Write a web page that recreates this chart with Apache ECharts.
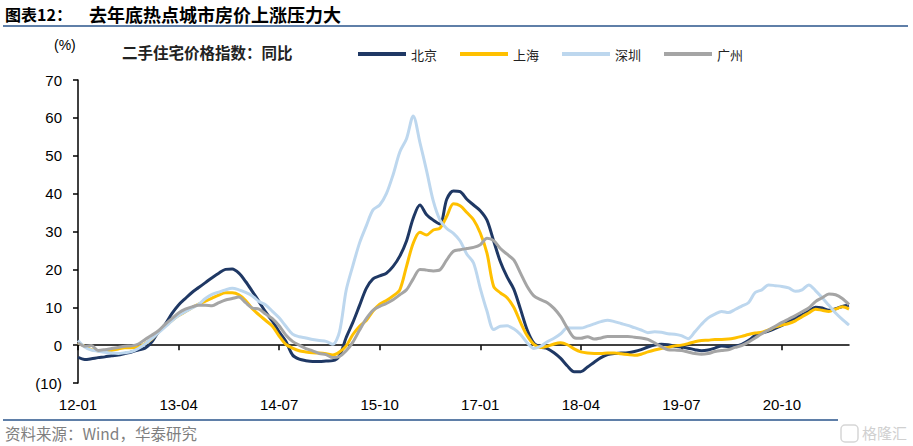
<!DOCTYPE html>
<html>
<head>
<meta charset="utf-8">
<script src="https://cdn.jsdelivr.net/npm/echarts@6/dist/echarts.min.js"></script>
<style>
html,body{margin:0;padding:0;background:#fff;}
#c{width:913px;height:446px;}
</style>
</head>
<body>
<div id="c"></div>
<script>
// Categories: monthly, 2012-01 .. 2021-08
var months = [
 '12-01','12-02','12-03','12-04','12-05','12-06','12-07','12-08','12-09','12-10','12-11','12-12',
 '13-01','13-02','13-03','13-04','13-05','13-06','13-07','13-08','13-09','13-10','13-11','13-12',
 '14-01','14-02','14-03','14-04','14-05','14-06','14-07','14-08','14-09','14-10','14-11','14-12',
 '15-01','15-02','15-03','15-04','15-05','15-06','15-07','15-08','15-09','15-10','15-11','15-12',
 '16-01','16-02','16-03','16-04','16-05','16-06','16-07','16-08','16-09','16-10','16-11','16-12',
 '17-01','17-02','17-03','17-04','17-05','17-06','17-07','17-08','17-09','17-10','17-11','17-12',
 '18-01','18-02','18-03','18-04','18-05','18-06','18-07','18-08','18-09','18-10','18-11','18-12',
 '19-01','19-02','19-03','19-04','19-05','19-06','19-07','19-08','19-09','19-10','19-11','19-12',
 '20-01','20-02','20-03','20-04','20-05','20-06','20-07','20-08','20-09','20-10','20-11','20-12',
 '21-01','21-02','21-03','21-04','21-05','21-06','21-07','21-08'
];

var seriesNames = ['北京','上海','深圳','广州'];

var beijing = [
 -3.2,-3.8,-3.6,-3.3,-3.1,-2.8,-2.6,-2.2,-1.8,-1.3,-0.8,0.8,
 3.5,5.5,8.3,10.6,12.3,13.9,15.2,16.5,17.8,19.0,20.0,20.1,
 19.0,16.8,14.2,11.5,8.7,6.3,3.5,1.0,-2.6,-3.7,-4.1,-4.3,
 -4.3,-4.2,-4.1,-2.8,2.0,6.0,10.5,15.0,17.5,18.3,19.0,20.8,
 23.5,27.5,33.5,37.0,34.4,33.0,32.0,38.5,40.7,40.5,38.5,37.0,
 35.5,33.0,27.5,22.0,18.0,14.8,9.5,4.0,0.5,-0.5,-0.9,-2.0,
 -3.5,-5.5,-7.0,-7.0,-5.8,-4.5,-3.3,-2.5,-2.2,-2.1,-2.0,-1.7,
 -1.2,-0.5,0.0,0.2,0.1,-0.3,-0.5,-0.8,-1.2,-1.5,-1.3,-0.8,
 -0.2,-0.4,-0.3,0.2,1.2,2.5,3.2,3.7,4.4,5.2,6.2,7.2,
 8.0,9.0,10.0,9.8,9.2,9.6,10.2,10.5
];

var shanghai = [
 0.6,-0.3,-1.2,-1.5,-1.6,-1.4,-1.0,-0.7,-0.7,-0.5,0.4,1.6,
 3.5,5.0,6.5,7.8,8.8,9.9,10.8,11.6,12.4,13.2,13.8,13.8,
 13.3,11.8,9.6,8.0,6.5,5.0,2.4,0.2,-0.8,-1.5,-1.8,-2.0,
 -2.1,-2.3,-2.6,-1.8,-0.2,2.8,5.0,6.5,9.0,10.8,11.8,13.0,
 14.6,20.8,26.9,29.8,29.1,30.4,30.9,34.0,37.3,36.8,35.0,33.1,
 29.6,24.3,15.5,13.8,12.5,10.0,6.0,2.5,0.2,-0.6,-0.3,0.3,
 0.6,0.1,-1.0,-1.8,-2.1,-2.2,-2.2,-2.1,-2.1,-2.3,-2.5,-2.7,
 -2.4,-1.8,-1.3,-0.9,-0.6,-0.2,0.0,0.4,0.9,1.2,1.3,1.5,
 1.5,1.6,1.9,2.3,2.8,3.2,3.4,4.0,4.8,5.3,5.7,6.4,
 7.5,8.5,9.5,9.2,8.9,9.5,10.1,9.5
];

var shenzhen = [
 1.2,-0.5,-1.3,-1.6,-1.9,-2.1,-2.2,-2.0,-1.7,-0.9,0.3,1.7,
 3.3,4.8,6.4,7.8,8.8,9.8,10.8,12.3,13.4,14.0,14.6,15.0,
 14.6,13.9,13.0,11.5,10.6,8.9,7.2,5.0,2.9,2.2,1.9,1.5,
 1.2,1.0,0.2,3.5,14.5,21.0,27.0,31.5,35.7,37.0,40.0,45.0,
 51.0,54.5,60.5,53.5,46.0,38.0,33.0,30.8,29.5,27.5,24.0,21.7,
 15.0,9.0,4.1,5.0,5.1,4.3,2.8,0.6,-0.9,-0.3,0.9,1.8,
 3.0,4.6,4.5,4.5,5.0,5.6,6.2,6.6,6.2,5.7,5.2,4.6,
 4.0,3.3,3.5,3.4,3.0,2.9,2.5,1.7,3.5,5.5,7.2,8.2,
 8.9,8.6,9.4,10.3,11.2,13.9,14.6,15.9,15.7,15.5,15.1,14.2,
 14.6,15.9,14.4,12.5,10.5,8.5,6.8,5.3
];

var guangzhou = [
 0.6,-0.3,-0.1,-1.4,-1.2,-0.9,-0.6,-0.3,-0.2,0.3,1.5,2.6,
 3.8,5.5,7.0,8.5,9.5,10.1,10.5,10.5,10.4,11.2,11.9,12.3,
 12.7,11.2,9.8,9.5,8.2,7.0,5.1,2.7,1.0,0.0,-0.9,-1.5,
 -2.2,-2.5,-3.3,-3.0,-1.5,0.8,4.0,7.0,9.2,10.2,11.0,12.0,
 13.3,14.6,17.5,20.0,19.8,19.6,19.9,22.5,24.8,25.2,25.5,25.8,
 26.5,28.2,27.6,25.5,24.0,22.5,19.0,15.5,13.0,12.0,11.2,9.7,
 7.5,4.5,2.0,1.8,2.2,1.6,1.9,2.3,2.3,2.3,2.3,2.1,
 1.9,1.5,0.6,-0.4,-1.2,-1.3,-1.4,-1.8,-2.2,-2.4,-2.2,-1.7,
 -1.4,-1.2,-0.6,-0.1,0.8,1.9,3.0,4.0,5.0,6.0,6.9,7.8,
 8.8,9.8,11.5,12.5,13.5,13.3,12.3,10.7
];

var yTicks = { min: -10, max: 70, interval: 10 };
var colors = ['#1F3864', '#FFC000', '#BDD7EE', '#A5A5A5'];

var CJK = '"Noto Sans CJK SC", "Noto Sans", sans-serif';
var NUM = '"Liberation Sans", Arial, sans-serif';

var chart = echarts.init(document.getElementById('c'), null, { renderer: 'svg' });

var dataSets = [beijing, shanghai, shenzhen, guangzhou];
var series = seriesNames.map(function (n, i) {
  return {
    name: n, type: 'line', xAxisIndex: 0, yAxisIndex: 0,
    data: dataSets[i], showSymbol: false, symbol: 'none', smooth: 0.3,
    lineStyle: { color: colors[i], width: 3 }, itemStyle: { color: colors[i] },
    emphasis: { disabled: true }, animation: false
  };
});

chart.setOption({
  animation: false,
  backgroundColor: '#fff',
  color: colors,
  grid: { left: 78, right: 64, top: 80, bottom: 63, containLabel: false },
  legend: {
    data: seriesNames, left: 353, top: 41, icon: 'rect',
    itemWidth: 48, itemHeight: 4, itemGap: 23,
    textStyle: { fontFamily: CJK, fontSize: 13, color: '#222', lineHeight: 16, padding: [0, 0, 0, 0] }
  },
  xAxis: [
    {
      type: 'category', data: months, boundaryGap: false,
      axisLine: { onZero: true, lineStyle: { color: '#000', width: 1.5 } },
      axisTick: { show: true, interval: 14, length: 5, inside: false, lineStyle: { color: '#000', width: 1.5 } },
      axisLabel: { show: false }, splitLine: { show: false }
    },
    {
      type: 'category', data: months, boundaryGap: false, position: 'bottom',
      axisLine: { show: false, onZero: false }, axisTick: { show: false },
      axisLabel: { show: true, interval: 14, margin: 14, fontFamily: NUM, fontSize: 15, color: '#000' },
      splitLine: { show: false }
    }
  ],
  yAxis: {
    type: 'value', min: yTicks.min, max: yTicks.max, interval: yTicks.interval,
    axisLine: { show: true, lineStyle: { color: '#000', width: 1.5 } },
    axisTick: { show: true, length: 5, inside: false, lineStyle: { color: '#000', width: 1.5 } },
    axisLabel: {
      margin: 16, fontFamily: NUM, fontSize: 15, color: '#000',
      formatter: function (v) { return v < 0 ? '(' + (-v) + ')' : String(v); }
    },
    splitLine: { show: false }
  },
  graphic: [
    { type: 'text', left: 5, top: 6, style: { text: '图表12：', font: 'bold 16px ' + CJK, fill: '#000' } },
    { type: 'text', left: 89, top: 5, style: { text: '去年底热点城市房价上涨压力大', font: 'bold 18px ' + CJK, fill: '#000' } },
    { type: 'rect', shape: { x: 3, y: 25, width: 905, height: 2 }, style: { fill: '#5F7FA8' } },
    { type: 'text', left: 54, top: 38, style: { text: '(%)', font: '14px ' + NUM, fill: '#000' } },
    { type: 'text', left: 122, top: 44, style: { text: '二手住宅价格指数：同比', font: 'bold 15.5px ' + CJK, fill: '#222' } },
    { type: 'rect', shape: { x: 3, y: 419, width: 835, height: 2 }, style: { fill: '#5F7FA8' } },
    { type: 'text', left: 5, top: 425, style: { text: '资料来源：Wind，华泰研究', font: '15.5px ' + CJK, fill: '#7F7F7F' } },
    { type: 'rect', shape: { x: 841, y: 425, width: 17, height: 17, r: 4 }, style: { fill: 'none', stroke: '#D6D6D6', lineWidth: 1.5 } },
    { type: 'text', left: 862, top: 425, style: { text: '格隆汇', font: '15px ' + CJK, fill: '#D0D0D0' } }
  ],
  series: series
});
</script>
</body>
</html>
